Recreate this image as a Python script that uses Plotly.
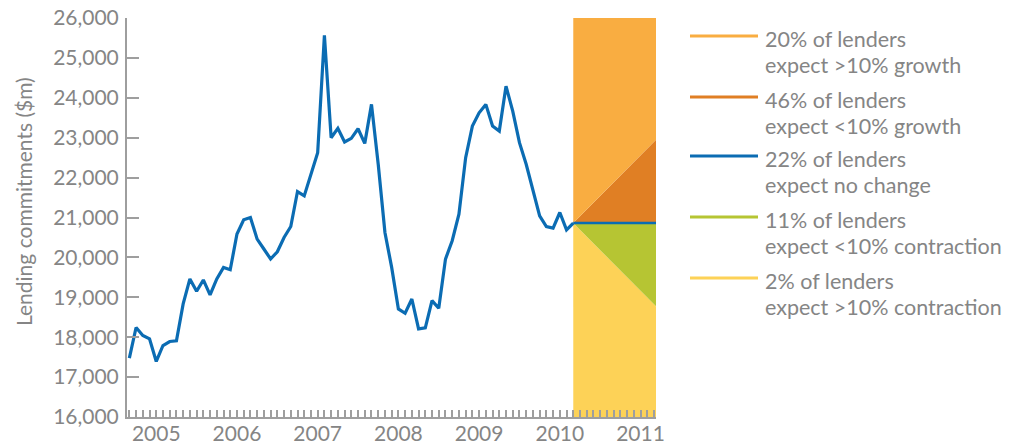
import plotly.graph_objects as go

# ---------------- data ----------------
month_index = list(range(67))  # monthly observations, Mar-2005 .. Sep-2010
lending = [17475, 18243, 18042, 17960, 17392, 17792, 17892, 17910, 18835, 19460, 19150, 19435,
           19060, 19460, 19750, 19692, 20585,
           20942, 21000, 20458, 20210, 19960, 20142, 20500, 20775, 21650, 21542, 22083, 22625,
           25567, 23000, 23233, 22892, 22985, 23225,
           22858, 23835, 22335, 20625, 19750, 18708, 18600, 18958, 18208, 18233, 18917, 18725,
           19958, 20417, 21083, 22500,
           23292, 23625, 23835, 23292, 23167, 24292, 23667, 22875, 22335, 21710, 21042, 20775,
           20735, 21125, 20692, 20860]

year_labels = ["2005", "2006", "2007", "2008", "2009", "2010", "2011"]
year_positions = [4, 16, 28, 40, 52, 64, 76]

legend_line1 = ["20% of lenders", "46% of lenders", "22% of lenders",
                "11% of lenders", "2% of lenders"]
legend_line2 = ["expect >10% growth", "expect <10% growth", "expect no change",
                "expect <10% contraction", "expect >10% contraction"]
growth_rate = 0.10       # +/-10% scenario bounds
y_min, y_max = 16000, 26000
x_min, x_max = -0.35, 78.3

# ---------------- styles ----------------
BLUE = "#0b6cb3"
LORANGE = "#f9ad41"
DORANGE = "#e07f24"
GREEN = "#b6c533"
YELLOW = "#fdd257"
legend_colors = [LORANGE, DORANGE, BLUE, GREEN, YELLOW]
TEXT = "#858585"
AXIS = "#9e9e9e"
FONT = "Lato"

# body margin is removed by post_script -> figure fills the window from (0, 0)
W, H = 1021, 444
ML, MT = 127, 18
PW, PH = 529, 399
MR = W - ML - PW
MB = H - MT - PH

def px_x(px):  # window pixel -> paper x
    return (px - ML) / PW

def px_y(py):  # window pixel -> paper y
    return (MT + PH - py) / PH

base = lending[-1]
x0 = month_index[-1]
x1 = x_max
hi = base * (1 + growth_rate)
lo = base * (1 - growth_rate)

fig = go.Figure()

def poly(xs, ys, color):
    fig.add_trace(go.Scatter(x=xs, y=ys, mode="lines", fill="toself", fillcolor=color,
                             line=dict(width=0, color=color), hoverinfo="skip", showlegend=False))

poly([x0, x0, x1, x1, x0], [y_min, base, lo, y_min, y_min], YELLOW)
poly([x0, x1, x1, x0], [base, base, lo, base], GREEN)
poly([x0, x1, x1, x0], [base, hi, base, base], DORANGE)
poly([x0, x0, x1, x1, x0], [base, y_max, y_max, hi, base], LORANGE)

fig.add_trace(go.Scatter(x=month_index, y=lending, mode="lines",
                         line=dict(color=BLUE, width=3.2), showlegend=False))
fig.add_trace(go.Scatter(x=[x0, x1], y=[base, base], mode="lines",
                         line=dict(color=BLUE, width=2.5), showlegend=False))

# legend (manual, to match long line samples)
sample_y = [36, 97, 156, 217, 278]
for l1, l2, col, sy in zip(legend_line1, legend_line2, legend_colors, sample_y):
    fig.add_shape(type="line", xref="paper", yref="paper",
                  x0=px_x(690), x1=px_x(758), y0=px_y(sy), y1=px_y(sy),
                  line=dict(color=col, width=3))
    for txt, dy in ((l1, 3), (l2, 29)):
        fig.add_annotation(xref="paper", yref="paper", x=px_x(763), y=px_y(sy + dy),
                           xanchor="left", yanchor="middle", align="left", showarrow=False,
                           text=txt, font=dict(family=FONT, size=21.5, color=TEXT))

# y-axis title
fig.add_annotation(xref="paper", yref="paper", x=px_x(23), y=px_y(202),
                   xanchor="center", yanchor="middle", textangle=-90, showarrow=False,
                   text="Lending commitments ($m)", font=dict(family=FONT, size=21, color=TEXT))

fig.update_layout(
    width=W, height=H,
    margin=dict(l=ML, r=MR, t=MT, b=MB, autoexpand=False),
    paper_bgcolor="white", plot_bgcolor="white",
    showlegend=False,
    font=dict(family=FONT, color=TEXT),
)
fig.update_xaxes(
    automargin=False,
    range=[x_min, x_max], showgrid=False, zeroline=False,
    showline=True, linecolor=AXIS, linewidth=2,
    tickmode="array", tickvals=year_positions, ticktext=year_labels,
    ticks="inside", ticklen=7, tickcolor=AXIS, tickwidth=1.5,
    ticklabeloverflow="allow", ticklabelstandoff=-3,
    tickfont=dict(family=FONT, size=21, color=TEXT),
    minor=dict(tickmode="array", tickvals=list(range(0, 79)), ticks="inside",
               ticklen=7, tickcolor=AXIS, tickwidth=1.5, showgrid=False),
)
fig.update_yaxes(
    automargin=False,
    range=[y_min, y_max], showgrid=False, zeroline=False,
    showline=True, linecolor=AXIS, linewidth=2,
    tickmode="array", tickvals=list(range(y_min, y_max + 1, 1000)),
    tickformat=",", ticks="inside", ticklen=12, tickcolor=AXIS, tickwidth=1.5,
    ticklabeloverflow="allow", ticklabelstandoff=2,
    tickfont=dict(family=FONT, size=21, color=TEXT),
)

fig.write_html("out.html", config={"displayModeBar": False},
               post_script="document.body.style.margin='0px';document.body.style.overflow='hidden';")
